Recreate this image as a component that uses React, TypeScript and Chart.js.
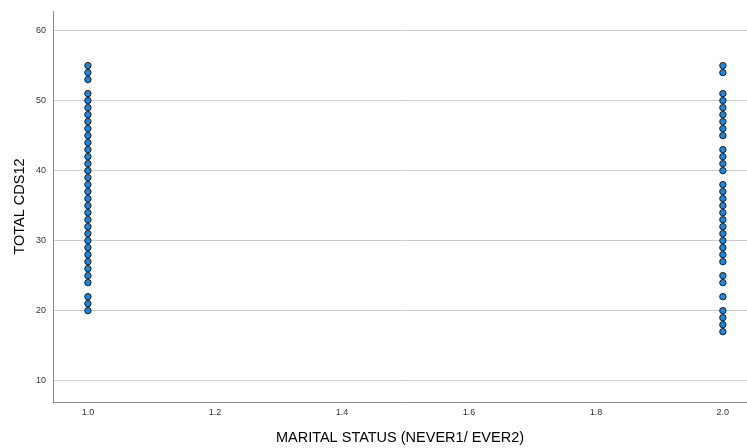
import React, { useEffect, useRef } from "react";
import { Chart, registerables } from "chart.js";

Chart.register(...registerables);

// TOTAL CDS12 scores observed in each marital-status group
const neverMarriedScores = [
  55, 54, 53, 51, 50, 49, 48, 47, 46, 45, 44, 43, 42, 41, 40, 39, 38, 37, 36, 35,
  34, 33, 32, 31, 30, 29, 28, 27, 26, 25, 24, 22, 21, 20,
];
const everMarriedScores = [
  55, 54, 51, 50, 49, 48, 47, 46, 45, 43, 42, 41, 40, 38, 37, 36, 35, 34, 33, 32,
  31, 30, 29, 28, 27, 25, 24, 22, 20, 19, 18, 17,
];
const groupCodes = [1, 2];
const xTickValues = [1.0, 1.2, 1.4, 1.6, 1.8, 2.0];
const yTickValues = [10, 20, 30, 40, 50, 60];

const xTitle = "MARITAL STATUS (NEVER1/ EVER2)";
const yTitle = "TOTAL CDS12";

export default function App() {
  const canvasRef = useRef<HTMLCanvasElement | null>(null);

  useEffect(() => {
    if (!canvasRef.current) return;
    const points = [
      ...neverMarriedScores.map((y) => ({ x: groupCodes[0], y })),
      ...everMarriedScores.map((y) => ({ x: groupCodes[1], y })),
    ];
    const tickFont = { family: "'Liberation Sans', Arial, sans-serif", size: 9 };
    const titleFont = { family: "'Liberation Sans', Arial, sans-serif", size: 14.5 };

    const chart = new Chart(canvasRef.current, {
      type: "scatter",
      data: {
        datasets: [
          {
            data: points,
            backgroundColor: "#1b87dd",
            borderColor: "#1a1a1a",
            borderWidth: 1,
            pointRadius: 3.2,
            pointHoverRadius: 3.2,
            clip: false,
          },
        ],
      },
      options: {
        animation: false,
        responsive: false,
        events: [],
        layout: { autoPadding: false, padding: { top: 11, right: 0, left: 0, bottom: 0 } },
        plugins: { legend: { display: false }, tooltip: { enabled: false } },
        scales: {
          x: {
            type: "linear",
            min: 0.945,
            max: 2.038,
            afterBuildTicks: (scale: any) => {
              scale.ticks = xTickValues.map((value) => ({ value }));
            },
            afterFit: (scale: any) => {
              scale.height = 46;
              scale.paddingLeft = 0;
              scale.paddingRight = 0;
            },
            grid: { display: false, drawTicks: false },
            border: { display: true, color: "#8a8a8a", width: 1 },
            ticks: {
              font: tickFont,
              color: "#333333",
              padding: 5,
              maxRotation: 0,
              autoSkip: false,
              callback: (v: any) => Number(v).toFixed(1),
            },
            title: {
              display: true,
              text: xTitle,
              font: titleFont,
              color: "#000000",
              padding: { top: 0, bottom: 1 },
            },
          },
          y: {
            type: "linear",
            min: 6.95,
            max: 62.8,
            afterBuildTicks: (scale: any) => {
              scale.ticks = yTickValues.map((value) => ({ value }));
            },
            afterFit: (scale: any) => {
              scale.width = 53;
              scale.paddingTop = 0;
              scale.paddingBottom = 0;
            },
            grid: { display: true, drawTicks: false, color: "#cdcdcd", lineWidth: 1 },
            border: { display: true, color: "#8a8a8a", width: 1 },
            ticks: {
              font: tickFont,
              color: "#333333",
              padding: 7,
              autoSkip: false,
            },
            title: {
              display: true,
              text: yTitle,
              font: titleFont,
              color: "#000000",
              padding: { top: 11, bottom: 0 },
            },
          },
        },
      },
    });
    return () => chart.destroy();
  }, []);

  return (
    <div
      style={{
        position: "fixed",
        left: 0,
        top: 0,
        width: 747,
        height: 448,
        background: "#ffffff",
      }}
    >
      <canvas ref={canvasRef} width={747} height={448} />
    </div>
  );
}
